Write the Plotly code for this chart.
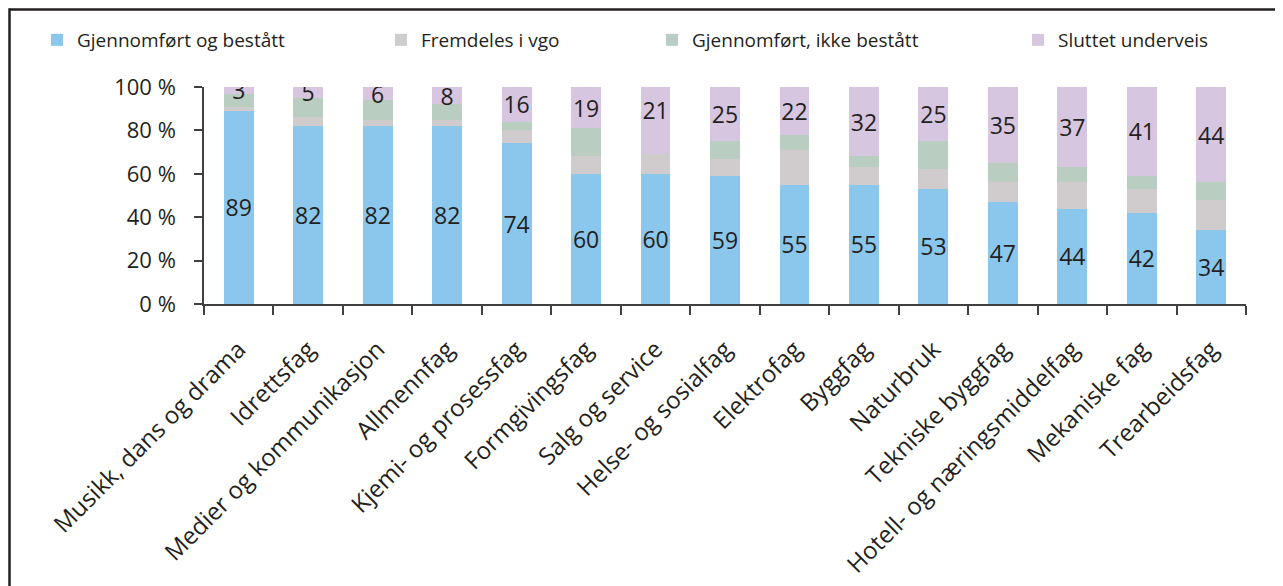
import plotly.graph_objects as go

categories = ["Musikk, dans og drama", "Idrettsfag", "Medier og kommunikasjon", "Allmennfag",
              "Kjemi- og prosessfag", "Formgivingsfag", "Salg og service", "Helse- og sosialfag",
              "Elektrofag", "Byggfag", "Naturbruk", "Tekniske byggfag", "Hotell- og næringsmiddelfag",
              "Mekaniske fag", "Trearbeidsfag"]
bestatt = [89, 82, 82, 82, 74, 60, 60, 59, 55, 55, 53, 47, 44, 42, 34]
fremdeles = [2, 4, 3, 3, 6, 8, 9, 8, 16, 8, 9, 9, 12, 11, 14]
ikke_bestatt = [6, 9, 9, 7, 4, 13, 10, 8, 7, 5, 13, 9, 7, 6, 8]
sluttet = [3, 5, 6, 8, 16, 19, 21, 25, 22, 32, 25, 35, 37, 41, 44]
series_names = ["Gjennomført og bestått", "Fremdeles i vgo", "Gjennomført, ikke bestått", "Sluttet underveis"]
y_ticks = [0, 20, 40, 60, 80, 100]
y_ticktext = [f"{v} %" for v in y_ticks]

BLUE = "#8BC7EC"
GRAY = "#D0CBCC"
GREEN = "#BACDC1"
PURPLE = "#D7C6E0"
INK = "#231F20"
AXIS = "#404040"
FONT = "Open Sans"

# In the original, the "ikke bestått" segment of "Salg og service" is drawn in the purple colour
green_colors = [PURPLE if c == "Salg og service" else GREEN for c in categories]

fig = go.Figure()
fig.add_trace(go.Bar(x=categories, y=bestatt, name=series_names[0], marker_color=BLUE,
                     text=bestatt, textposition="inside", insidetextanchor="middle",
                     textangle=0, constraintext="none",
                     textfont=dict(family=FONT, size=23, color=INK), legend="legend"))
fig.add_trace(go.Bar(x=categories, y=fremdeles, name=series_names[1], marker_color=GRAY,
                     legend="legend2"))
fig.add_trace(go.Bar(x=categories, y=ikke_bestatt, name=series_names[2],
                     marker=dict(color=green_colors), legend="legend3"))
fig.add_trace(go.Bar(x=categories, y=sluttet, name=series_names[3], marker_color=PURPLE,
                     text=sluttet, textposition="inside", insidetextanchor="middle",
                     textangle=0, constraintext="none",
                     textfont=dict(family=FONT, size=23, color=INK), legend="legend4"))

fig.update_traces(marker_line_width=0, hoverinfo="skip", showlegend=True)

# page body has an 8px margin: work in screen pixels and convert
OFF = 8
W, H = 1283 - OFF, 586 - OFF
plot_left, plot_right, plot_top, plot_bottom = 204 - OFF, 1246 - OFF, 87 - OFF, 304 - OFF
L, R, T, B = plot_left, W - plot_right, plot_top, H - plot_bottom
pw, ph = plot_right - plot_left, plot_bottom - plot_top

def sx(px):
    return (px - OFF - plot_left) / pw

def sy(py):
    return (plot_bottom - (py - OFF)) / ph

leg_common = dict(orientation="h", yanchor="middle", xanchor="left", bgcolor="rgba(0,0,0,0)",
                  font=dict(family=FONT, size=19, color=INK), y=sy(40),
                  itemclick=False, itemdoubleclick=False)
legend_pos = [37, 381, 652, 1018]

fig.update_layout(
    width=W, height=H,
    margin=dict(l=L, r=R, t=T, b=B, autoexpand=False),
    paper_bgcolor="white", plot_bgcolor="white",
    barmode="stack", bargap=0.57, showlegend=True,
    font=dict(family=FONT, color=INK),
    legend=dict(x=sx(legend_pos[0]), **leg_common),
    legend2=dict(x=sx(legend_pos[1]), **leg_common),
    legend3=dict(x=sx(legend_pos[2]), **leg_common),
    legend4=dict(x=sx(legend_pos[3]), **leg_common),
    xaxis=dict(type="category", tickangle=-45, tickson="boundaries", ticks="outside", ticklen=9,
               tickwidth=1.5, tickcolor=AXIS, showline=True, linecolor=AXIS, linewidth=1.5,
               showgrid=False, ticklabelstandoff=20,
               tickfont=dict(family=FONT, size=24, color=INK)),
    yaxis=dict(range=[0, 100], tickmode="array", tickvals=y_ticks, ticktext=y_ticktext,
               ticks="outside", ticklen=8,
               tickwidth=1.5, tickcolor=AXIS, showline=True, linecolor=AXIS, linewidth=1.5,
               showgrid=False, zeroline=False, ticklabelstandoff=14,
               tickfont=dict(family=FONT, size=22, color=INK)),
    shapes=[
        dict(type="line", xref="paper", yref="paper", x0=sx(9.5), x1=sx(1300),
             y0=sy(9.5), y1=sy(9.5), line=dict(color=INK, width=2.5)),
        dict(type="line", xref="paper", yref="paper", x0=sx(9.5), x1=sx(9.5),
             y0=sy(8.3), y1=sy(600), line=dict(color=INK, width=2.5)),
    ],
)

fig.write_html("out.html")
